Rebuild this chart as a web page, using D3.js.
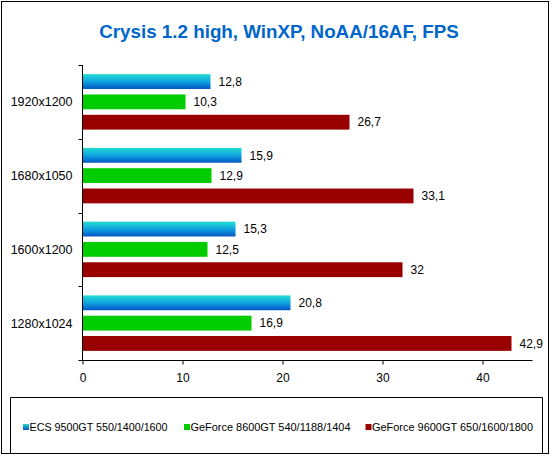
<!DOCTYPE html>
<html><head><meta charset="utf-8">
<script src="https://cdn.jsdelivr.net/npm/d3@7"></script>
<style>body{margin:0;background:#fff}svg{display:block}text{font-family:Arial,"Liberation Sans",sans-serif}</style>
</head><body><svg id="c" width="552" height="457"></svg>
<script>
const title = "Crysis 1.2 high, WinXP, NoAA/16AF, FPS";
const categories = ["1920x1200","1680x1050","1600x1200","1280x1024"];
const seriesNames = ["ECS 9500GT 550/1400/1600","GeForce 8600GT 540/1188/1404","GeForce 9600GT 650/1600/1800"];
const ecs = [12.8, 15.9, 15.3, 20.8];
const gf8600 = [10.3, 12.9, 12.5, 16.9];
const gf9600 = [26.7, 33.1, 32, 42.9];
const xTicks = [0,10,20,30,40];

const values = [ecs, gf8600, gf9600];
const fills = ["url(#gBlue)", "#00cc00", "#990000"];

const svg = d3.select("#c");
const defs = svg.append("defs");
const g = defs.append("linearGradient").attr("id","gBlue").attr("x1",0).attr("y1",0).attr("x2",0).attr("y2",1);
g.append("stop").attr("offset","0%").attr("stop-color","#22dcd0");
g.append("stop").attr("offset","50%").attr("stop-color","#10a4e0");
g.append("stop").attr("offset","100%").attr("stop-color","#0054c4");
const gl = defs.append("linearGradient").attr("id","gBlueL").attr("x1",0).attr("y1",0).attr("x2",0).attr("y2",1);
gl.append("stop").attr("offset","0%").attr("stop-color","#22dcd0");
gl.append("stop").attr("offset","100%").attr("stop-color","#0054c4");

// outer frame
svg.append("rect").attr("x",1.5).attr("y",1.5).attr("width",547).attr("height",452)
  .attr("fill","#fff").attr("stroke","#000").attr("stroke-width",1);

svg.append("text").attr("x",279).attr("y",38).attr("text-anchor","middle")
  .attr("font-size",18.8).attr("font-weight","bold").attr("fill","#0066cc").text(title);

const x = d3.scaleLinear().domain([0,45]).range([82.5,532.5]);
const y = d3.scaleBand().domain(categories).range([65,360]);
const inner = d3.scaleBand().domain(d3.range(3)).range([0,y.bandwidth()]).paddingInner(0.27).paddingOuter(0.45);

// bars
categories.forEach((c,ci)=>{
  values.forEach((arr,si)=>{
    const by = y(c)+inner(si);
    svg.append("rect").attr("x",x(0)).attr("y",by).attr("width",x(arr[ci])-x(0))
      .attr("height",inner.bandwidth()).attr("fill",fills[si]);
    svg.append("text").attr("x",x(arr[ci])+8).attr("y",by+inner.bandwidth()/2).attr("dy","0.35em")
      .attr("font-size",12).attr("fill","#000").text(String(arr[ci]).replace(".",","));
  });
});

// x axis
const xa = svg.append("g").attr("transform","translate(0,360.5)")
  .call(d3.axisBottom(x).tickValues(xTicks).tickSize(4).tickPadding(9).tickFormat(d3.format("d")));
xa.select(".domain").attr("d",`M${x(0)},0H${x(45)}`);
xa.selectAll("text").attr("font-size",12).attr("font-family","Arial, 'Liberation Sans', sans-serif").attr("fill","#000");
xa.selectAll("line").attr("stroke","#000");

// y axis
const ya = svg.append("g").attr("transform","translate(82.5,0)");
ya.append("line").attr("x1",0).attr("x2",0).attr("y1",65).attr("y2",360).attr("stroke","#000");
const bounds = categories.map(c=>y(c)).concat([y.range()[1]]);
bounds.forEach(b=>ya.append("line").attr("x1",-4).attr("x2",0).attr("y1",Math.round(b)+0.5).attr("y2",Math.round(b)+0.5).attr("stroke","#000"));
categories.forEach(c=>{
  ya.append("text").attr("x",-10).attr("y",y(c)+y.bandwidth()/2).attr("dy","0.35em")
    .attr("text-anchor","end").attr("font-size",12.5).attr("fill","#000").text(c);
});

// legend
svg.append("path").attr("d","M10.5,454V397.5H542.5V454").attr("fill","none").attr("stroke","#000");
const legX = [23, 184, 365.5];
const legW = [138, 160, 161];
seriesNames.forEach((n,i)=>{
  svg.append("rect").attr("x",legX[i]).attr("y",424).attr("width",6).attr("height",6)
    .attr("fill", i===0 ? "url(#gBlueL)" : fills[i]);
  svg.append("text").attr("x",legX[i]+6.5).attr("y",427).attr("dy","0.35em")
    .attr("font-size",11.5).attr("textLength",legW[i]).attr("lengthAdjust","spacingAndGlyphs")
    .attr("fill","#000").text(n);
});
</script></body></html>
